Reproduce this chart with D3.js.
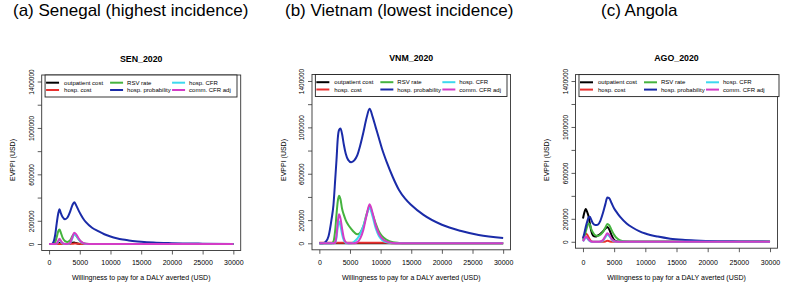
<!DOCTYPE html>
<html><head><meta charset="utf-8">
<script src="https://cdn.jsdelivr.net/npm/d3@7"></script>
<style>
body{margin:0;background:#fff}
svg{display:block}
text{font-family:"Liberation Sans",Arial,Helvetica,sans-serif;fill:#000}
</style>
</head><body><svg id="chart" width="787" height="289"></svg>
<script>
// ---------------- data ----------------
const seriesNames = ["outpatient cost","hosp. cost","RSV rate","hosp. probability","hosp. CFR","comm. CFR adj"];
const seriesColors = ["#000000","#E8302E","#45B33F","#1A2BA8","#3DD8EE","#D33CC6"];
const xTicks = [0,5000,10000,15000,20000,25000,30000];
const yTicks = [0,200000,400000,600000,800000,1000000,1200000,1400000];
const yTickLabels = ["0","200000","","600000","","1000000","","1400000"];

// Senegal
const wtpSEN = [0,400,700,1000,1250,1500,1700,1900,2200,2600,3000,3400,3800,4100,4400,4800,5200,5600,6000,7000,8000,9000,10000,11000,12000,13000,14000,15000,17000,20000,25000,30000];
const senOutpatientCost = [0,0,0,0,0,5000,8000,4000,0,0,0,3000,12000,14000,8000,2000,0,0,0,0,0,0,0,0,0,0,0,0,0,0,0,0];
const senHospCost = [0,0,0,0,0,0,0,0,0,0,0,0,2000,4000,4000,2000,0,0,0,0,0,0,0,0,0,0,0,0,0,0,0,0];
const senRsvRate = [0,0,0,15000,60000,110000,124000,100000,55000,25000,18000,30000,68000,88000,72000,42000,20000,8000,3000,0,0,0,0,0,0,0,0,0,0,0,0,0];
const senHospProb = [0,0,15000,80000,180000,265000,300000,268000,232000,213000,228000,275000,335000,360000,335000,290000,250000,215000,188000,140000,110000,84000,65000,50000,39000,31000,24000,19000,12000,7000,3000,1000];
const senHospCfr = [0,0,0,0,3000,22000,38000,24000,5000,0,0,6000,48000,82000,75000,42000,18000,5000,1000,0,0,0,0,0,0,0,0,0,0,0,0,0];
const senCommCfrAdj = [0,0,0,0,5000,28000,46000,30000,8000,0,0,8000,60000,97000,85000,50000,22000,7000,2000,0,0,0,0,0,0,0,0,0,0,0,0,0];

// Vietnam
const wtpVNM = [0,500,1000,1500,2000,2300,2600,2800,3000,3200,3450,3700,4000,4300,4700,5200,5700,6200,6700,7200,7700,8200,8700,9200,9700,10200,11000,12000,13000,14000,15000,17000,20000,23000,26000,30000];
const vnmOutpatientCost = [0,0,0,0,0,0,0,0,0,0,0,0,0,0,0,0,0,0,0,0,0,0,0,0,0,0,0,0,0,0,0,0,0,0,0,0];
const vnmHospCost = [4000,4000,4000,4000,4000,4000,4000,4000,4000,4000,4000,4000,4000,4000,4000,4000,4000,4000,4000,4000,4000,4000,4000,4000,4000,4000,4000,0,0,0,0,0,0,0,0,0];
const vnmRsvRate = [0,0,0,0,0,15000,120000,250000,360000,410000,380000,300000,245000,200000,160000,125000,95000,78000,95000,150000,250000,315000,250000,170000,105000,65000,30000,10000,3000,0,0,0,0,0,0,0];
const vnmHospProb = [0,0,10000,60000,210000,330000,560000,720000,900000,975000,990000,945000,850000,775000,720000,700000,715000,760000,850000,960000,1080000,1160000,1090000,1000000,910000,820000,700000,570000,460000,385000,330000,245000,160000,108000,72000,45000];
const vnmHospCfr = [0,0,0,0,0,0,5000,50000,140000,190000,150000,80000,25000,5000,0,0,15000,40000,85000,150000,240000,305000,230000,130000,65000,30000,8000,1000,0,0,0,0,0,0,0,0];
const vnmCommCfrAdj = [0,0,0,0,0,0,10000,70000,180000,250000,215000,130000,45000,10000,0,0,0,10000,45000,120000,240000,336000,260000,155000,85000,45000,15000,3000,0,0,0,0,0,0,0,0];

// Angola
const wtpAGO = [0,200,450,700,900,1100,1300,1600,2000,2400,2800,3200,3600,3900,4200,4600,5000,5500,6000,7000,8000,9000,10000,12000,14000,16000,18000,20000,25000,30000];
const agoOutpatientCost = [203000,250000,285000,255000,220000,160000,100000,55000,45000,55000,70000,90000,115000,128000,110000,55000,15000,3000,0,0,0,0,0,0,0,0,0,0,0,0];
const agoHospCost = [30000,55000,73000,60000,40000,20000,5000,0,0,0,0,0,3000,8000,5000,0,0,0,0,0,0,0,0,0,0,0,0,0,0,0];
const agoRsvRate = [15000,40000,90000,135000,160000,150000,115000,80000,55000,50000,62000,85000,125000,155000,145000,100000,60000,28000,12000,2000,0,0,0,0,0,0,0,0,0,0];
const agoHospProb = [29000,70000,130000,180000,210000,218000,195000,160000,145000,150000,185000,250000,330000,385000,380000,335000,290000,250000,215000,160000,122000,93000,72000,45000,27000,17000,11000,7000,3000,1000];
const agoHospCfr = [3000,18000,35000,28000,15000,5000,1000,0,0,0,2000,10000,40000,62000,50000,20000,4000,0,0,0,0,0,0,0,0,0,0,0,0,0];
const agoCommCfrAdj = [5000,25000,45000,35000,20000,8000,2000,0,0,0,3000,15000,50000,75000,60000,25000,6000,0,0,0,0,0,0,0,0,0,0,0,0,0];

// ---------------- layout ----------------
const panels = [
  {header:"(a) Senegal (highest incidence)", headerX:13, title:"SEN_2020",
   left:41.7, right:240.7, top:75, bottom:250.5, legendRight:237,
   wtp:wtpSEN, values:[senOutpatientCost,senHospCost,senRsvRate,senHospProb,senHospCfr,senCommCfrAdj]},
  {header:"(b) Vietnam (lowest incidence)", headerX:285, title:"VNM_2020",
   left:312, right:510.5, top:74.5, bottom:249.8, legendRight:507,
   wtp:wtpVNM, values:[vnmOutpatientCost,vnmHospCost,vnmRsvRate,vnmHospProb,vnmHospCfr,vnmCommCfrAdj]},
  {header:"(c) Angola", headerX:601, title:"AGO_2020",
   left:575.5, right:777.5, top:74.6, bottom:248.2, legendRight:779,
   wtp:wtpAGO, values:[agoOutpatientCost,agoHospCost,agoRsvRate,agoHospProb,agoHospCfr,agoCommCfrAdj]}
];

const svg = d3.select("#chart");
svg.append("rect").attr("width",787).attr("height",289).attr("fill","#fff");

panels.forEach(p => {
  const g = svg.append("g");
  const x = d3.scaleLinear().domain([-1200, 31200]).range([p.left, p.right]);
  const y = d3.scaleLinear().domain([-56000, 1456000]).range([p.bottom, p.top]);

  // header
  g.append("text").attr("x", p.headerX).attr("y", 15.5)
    .attr("font-size", 17).text(p.header);
  // title
  g.append("text").attr("x", (p.left+p.right)/2).attr("y", p.top-16.5)
    .attr("text-anchor","middle").attr("dominant-baseline","central")
    .attr("font-size", 8.8).attr("font-weight","bold").text(p.title);

  // x axis
  const xa = g.append("g").attr("transform", `translate(0,${p.bottom})`)
    .call(d3.axisBottom(x).tickValues(xTicks).tickSize(4).tickSizeOuter(0).tickFormat(d3.format("d")));
  xa.select(".domain").remove();
  xa.selectAll("line").attr("stroke","#333").attr("stroke-width",0.8);
  xa.selectAll("text").attr("y", null).attr("dy", null)
    .attr("transform", `translate(0,${262-p.bottom})`)
    .attr("dominant-baseline","central")
    .attr("font-size", 7).attr("font-family",'"Liberation Sans",Arial,sans-serif').attr("fill","#222");

  // y axis
  const ya = g.append("g").attr("transform", `translate(${p.left},0)`)
    .call(d3.axisLeft(y).tickValues(yTicks).tickSize(4).tickSizeOuter(0)
      .tickFormat((d,i) => yTickLabels[i]));
  ya.select(".domain").remove();
  ya.selectAll("line").attr("stroke","#333").attr("stroke-width",0.8);
  ya.selectAll("text").attr("x", null).attr("dy", null)
    .attr("transform", "translate(-10.5,0) rotate(-90)")
    .attr("text-anchor","middle").attr("dominant-baseline","central")
    .attr("font-size", 6.5).attr("font-family",'"Liberation Sans",Arial,sans-serif').attr("fill","#222");

  // axis titles
  g.append("text").attr("x", (p.left+p.right)/2).attr("y", 277.5)
    .attr("text-anchor","middle").attr("dominant-baseline","central")
    .attr("font-size", 7).attr("fill","#222")
    .text("Willingness to pay for a DALY averted (USD)");
  g.append("text").attr("transform", `translate(${p.left-29},160) rotate(-90)`)
    .attr("text-anchor","middle").attr("dominant-baseline","central")
    .attr("font-size", 7).attr("fill","#222").text("EVPPI (USD)");

  // lines
  const line = d3.line().x((d,i) => x(p.wtp[i])).y(d => y(d)).curve(d3.curveMonotoneX);
  p.values.forEach((vals, k) => {
    g.append("path").attr("d", line(vals)).attr("fill","none")
      .attr("stroke", seriesColors[k]).attr("stroke-width", 2)
      .attr("stroke-linejoin","round");
  });

  // box
  g.append("rect").attr("x", p.left).attr("y", p.top)
    .attr("width", p.right-p.left).attr("height", p.bottom-p.top)
    .attr("fill","none").attr("stroke","#333").attr("stroke-width",0.9);

  // legend
  const lx = x(0) - 4, ly = p.top;
  const lg = g.append("g");
  lg.append("rect").attr("x", lx).attr("y", ly).attr("width", p.legendRight-lx).attr("height", 22)
    .attr("fill","#fff").attr("stroke","#222").attr("stroke-width",0.9);
  const colLine = [1, 65, 127], colText = [19, 82, 144];
  seriesNames.forEach((name, k) => {
    const c = Math.floor(k/2), r = k % 2;
    const yy = ly + 7.7 + r*7.3;
    lg.append("line").attr("x1", lx+colLine[c]).attr("x2", lx+colLine[c]+13)
      .attr("y1", yy).attr("y2", yy).attr("stroke", seriesColors[k]).attr("stroke-width", 2);
    lg.append("text").attr("x", lx+colText[c]).attr("y", yy)
      .attr("dominant-baseline","central").attr("font-size", 6).text(name);
  });
});
</script>
</body></html>
